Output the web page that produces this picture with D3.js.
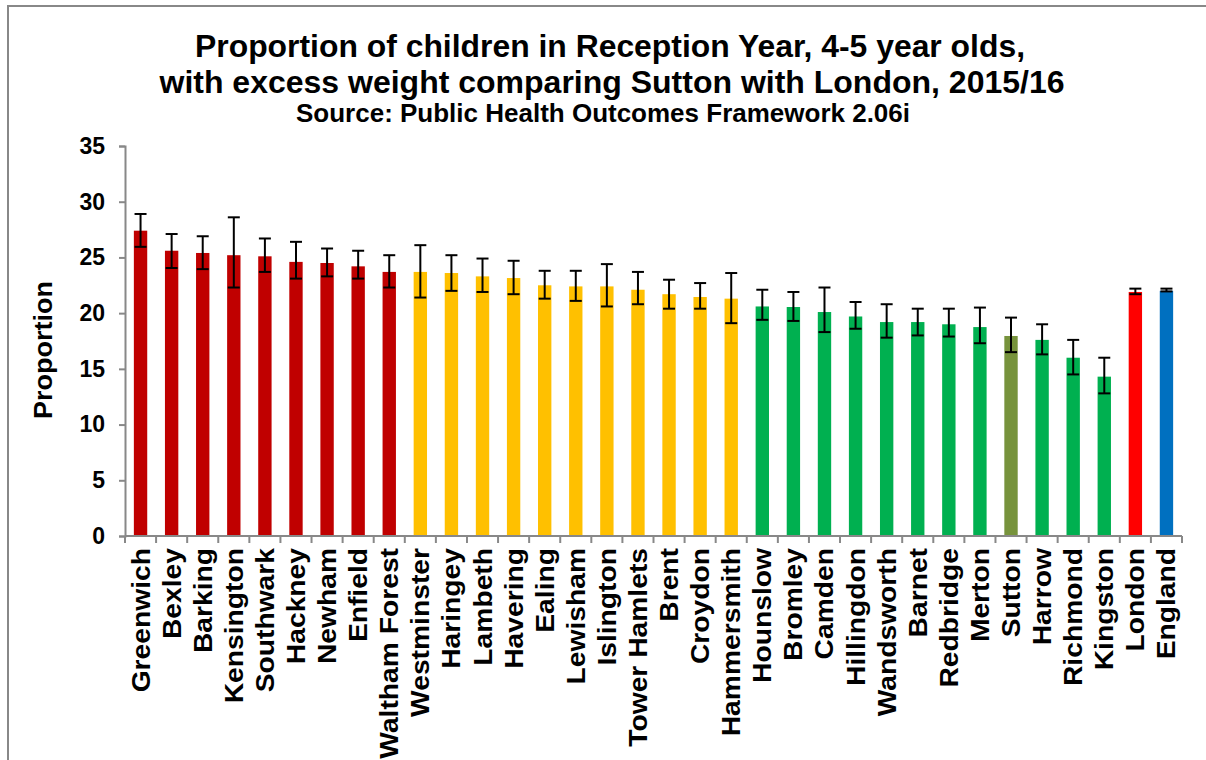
<!DOCTYPE html>
<html><head><meta charset="utf-8">
<script src="https://cdn.jsdelivr.net/npm/d3@7"></script>
<style>body{margin:0;background:#fff;} svg{display:block;}</style>
</head><body>
<script>
const categories = ["Greenwich","Bexley","Barking","Kensington","Southwark","Hackney","Newham","Enfield","Waltham Forest","Westminster","Haringey","Lambeth","Havering","Ealing","Lewisham","Islington","Tower Hamlets","Brent","Croydon","Hammersmith","Hounslow","Bromley","Camden","Hillingdon","Wandsworth","Barnet","Redbridge","Merton","Sutton","Harrow","Richmond","Kingston","London","England"];
const values = [27.4,25.6,25.4,25.2,25.1,24.6,24.5,24.2,23.7,23.7,23.6,23.3,23.15,22.5,22.4,22.4,22.1,21.7,21.45,21.3,20.6,20.55,20.1,19.7,19.2,19.2,19.0,18.75,17.95,17.6,16.0,14.3,21.9,22.0];
const lower = [25.95,24.05,23.95,22.3,23.7,23.1,23.3,23.1,22.3,21.4,22.0,21.9,21.7,21.3,21.1,20.6,20.8,20.4,20.4,19.1,19.4,19.3,18.3,18.6,17.8,18.0,17.9,17.3,16.5,16.3,14.5,12.8,21.7,21.95];
const upper = [28.9,27.1,26.9,28.6,26.7,26.4,25.8,25.6,25.2,26.1,25.2,24.9,24.7,23.8,23.8,24.4,23.7,23.0,22.7,23.6,22.1,21.9,22.3,21.0,20.8,20.4,20.4,20.5,19.6,19.0,17.6,16.0,22.2,22.2];
const groups = ["worse","worse","worse","worse","worse","worse","worse","worse","worse","similar","similar","similar","similar","similar","similar","similar","similar","similar","similar","similar","better","better","better","better","better","better","better","better","sutton","better","better","better","london","england"];
const yTicks = [0,5,10,15,20,25,30,35];
const colorMap = {worse:"#C00000", similar:"#FFC000", better:"#00B050", sutton:"#77933C", london:"#FF0000", england:"#0070C0"};

const W = 1206, H = 760;
const FONT = "'Liberation Sans', Arial, sans-serif";
const svg = d3.select("body").append("svg").attr("width", W).attr("height", H)
  .style("font-family", FONT);

// outer chart border
svg.append("path").attr("d","M8,760 L8,6 L1206,6").attr("fill","none").attr("stroke","#888").attr("stroke-width",2);

const x = d3.scaleBand().domain(categories).range([125,1182]).paddingInner(0.57).paddingOuter(0.285);
const y = d3.scaleLinear().domain([0,35]).range([536,146]);

// bars
svg.append("g").selectAll("rect").data(categories).join("rect")
  .attr("x", d => x(d)).attr("width", x.bandwidth())
  .attr("y", (d,i) => y(values[i])).attr("height", (d,i) => y(0) - y(values[i]))
  .attr("fill", (d,i) => colorMap[groups[i]]);

// error bars
const eb = svg.append("g").attr("stroke","#000").attr("stroke-width",2);
categories.forEach((d,i) => {
  const cx = x(d) + x.bandwidth()/2;
  eb.append("line").attr("x1",cx).attr("x2",cx).attr("y1",y(lower[i])).attr("y2",y(upper[i]));
  eb.append("line").attr("x1",cx-6).attr("x2",cx+6).attr("y1",y(lower[i])).attr("y2",y(lower[i]));
  eb.append("line").attr("x1",cx-6).attr("x2",cx+6).attr("y1",y(upper[i])).attr("y2",y(upper[i]));
});

// y axis
const yAxis = svg.append("g").attr("transform","translate(125,0)")
  .call(d3.axisLeft(y).tickValues(yTicks).tickSize(6).tickPadding(14));
yAxis.select(".domain").attr("stroke","#888").attr("stroke-width",2);
yAxis.selectAll(".tick line").attr("stroke","#888").attr("stroke-width",2);
yAxis.selectAll(".tick text").attr("font-size",23).attr("font-weight","bold").attr("fill","#000")
  .style("font-family", FONT);

// x axis line with ticks at band boundaries
const xg = svg.append("g");
xg.append("line").attr("x1",125).attr("x2",1182).attr("y1",536).attr("y2",536).attr("stroke","#888").attr("stroke-width",2);
d3.range(categories.length+1).forEach(k => {
  const px = 125 + (1182-125)*k/categories.length;
  xg.append("line").attr("x1",px).attr("x2",px).attr("y1",536).attr("y2",543).attr("stroke","#888").attr("stroke-width",2);
});
xg.selectAll("text.cat").data(categories).join("text").attr("class","cat")
  .attr("transform", d => `translate(${x(d)+x.bandwidth()/2+9},548) rotate(-90) scale(1.13,1)`)
  .attr("text-anchor","end").attr("font-size",25).attr("font-weight","bold").attr("fill","#000")
  .text(d => d);

// y label
svg.append("text").attr("transform","translate(52,350) rotate(-90) scale(1.08,1)").attr("text-anchor","middle")
  .attr("font-size",25).attr("font-weight","bold").text("Proportion");

// titles
svg.append("text").attr("x",610).attr("y",57).attr("text-anchor","middle").attr("font-size",31).attr("font-weight","bold")
  .attr("textLength",830).attr("lengthAdjust","spacingAndGlyphs")
  .text("Proportion of children in Reception Year, 4-5 year olds,");
svg.append("text").attr("x",612).attr("y",93).attr("text-anchor","middle").attr("font-size",31).attr("font-weight","bold")
  .attr("textLength",905).attr("lengthAdjust","spacingAndGlyphs")
  .text("with excess weight comparing Sutton with London, 2015/16");
svg.append("text").attr("x",603).attr("y",122).attr("text-anchor","middle").attr("font-size",25).attr("font-weight","bold")
  .attr("textLength",614).attr("lengthAdjust","spacingAndGlyphs")
  .text("Source: Public Health Outcomes Framework 2.06i");
</script>
</body></html>
